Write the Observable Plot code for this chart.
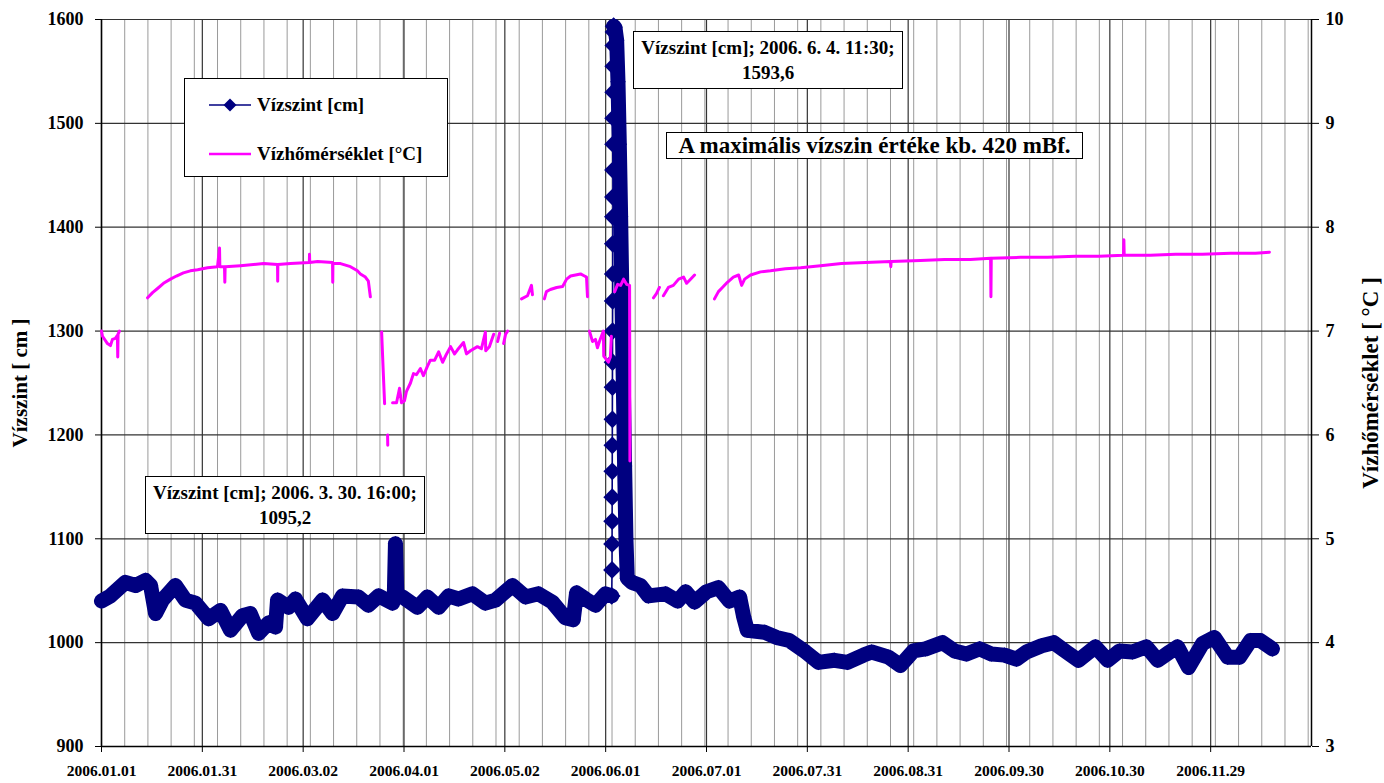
<!DOCTYPE html>
<html><head><meta charset="utf-8">
<script src="https://cdn.jsdelivr.net/npm/d3@7"></script>
<script src="https://cdn.jsdelivr.net/npm/@observablehq/plot@0.6"></script>
<style>
body{margin:0;background:#fff;}
#wrap{position:relative;width:1384px;height:783px;font-family:"Liberation Serif","Times New Roman",serif;font-weight:bold;color:#000;}
.box{position:absolute;background:#fff;border:1px solid #000;box-sizing:border-box;text-align:center;white-space:nowrap;}
</style></head><body><div id="wrap"></div>
<script>
// x tick labels (one every 365/12 days from 2006-01-01)
const xTickLabels = ["2006.01.01","2006.01.31","2006.03.02","2006.04.01","2006.05.02","2006.06.01","2006.07.01","2006.07.31","2006.08.31","2006.09.30","2006.10.30","2006.11.29"];
const levelTicks = [900,1000,1100,1200,1300,1400,1500,1600];
const tempTicks = [3,4,5,6,7,8,9,10];

// Water level [cm] — day of year (0 = 2006-01-01) and value
const levelDays = [0,2.7,7.2,10.3,13.3,14.8,16.3,18.4,22.3,25.3,28.4,32.3,35.9,38.9,42.5,44.9,47.4,50.4,52.5,53.1,56.4,58.5,62.1,66.7,69.7,72.7,77.5,80.5,83.6,87.8,88.3,88.67,89.1,90.8,95.3,98.3,101.7,104.7,107.7,111.9,115.8,118.9,124,127.9,131.8,136,139.9,142.3,143.3,146,149,152,153.9,
  154.00,154.02,154.04,154.06,154.08,154.10,154.12,154.14,154.16,154.18,154.20,154.22,154.24,154.26,154.28,154.30,154.32,154.34,154.36,154.38,154.40,154.44,154.48,
  154.9,155.4,155.8,156.2,156.6,157.0,157.4,157.8,158.2,158.6,160,162.6,
  165,170.1,173.8,176.2,178.9,182.5,186.1,189.4,192.5,193.7,194.8,200,203.6,207.5,212.4,216.3,221.1,225,229.9,232.3,237.4,241,244.9,248.6,253.7,257.3,260.9,264.9,268.5,272.4,276,279,283.6,287.2,291.1,294.7,299.8,303.5,307.1,311,315.2,318.6,322.2,324.6,327.9,332.1,335.7,339.7,343.3,346.6,349.6,353.2];
const levelVals = [1040,1045,1058,1055,1060,1055,1028,1041,1055,1041,1038,1023,1031,1012,1026,1028,1009,1019,1015,1041,1034,1042,1023,1041,1028,1045,1044,1036,1045,1038,1042,1095.2,1044,1044,1034,1044,1034,1045,1042,1047,1038,1041,1055,1044,1047,1039,1024,1022,1048,1042,1036,1047,1045,
  1070,1095,1117,1140,1165,1190,1215,1246,1270,1300,1329,1355,1384,1410,1429,1455,1480,1505,1530,1555,1575,1588,1593.6,
  1592,1580,1540,1480,1410,1330,1250,1170,1100,1062,1058,1055,
  1045,1047,1040,1049,1039,1049,1053,1040,1044,1025,1012,1010,1005,1002,991,981,983,981,988,991,986,978,992,994,1000,992,989,994,989,988,984,991,997,1000,991,983,996,983,992,991,996,983,991,996,976,999,1005,986,986,1002,1002,994];
// flood rise (start and end of the quickly rising limb, drawn with visible markers)
const riseStart = 153.9, riseEnd = 154.48;

// Water temperature [°C] — null marks a gap in the record
const tempDays = [0,0.3,1.8,2.7,3.3,4.2,4.8,4.9,5.0,5.4,5.5,
  13.9,15.4,16.9,18.7,20.8,22.6,24.7,26.8,29,32,35,35.6,35.7,37.1,37.2,37.3,41.9,48.9,53.1,53.15,53.2,57,62.7,62.75,62.8,65.2,69.7,69.75,69.8,72.1,75.1,77.2,78.1,79.6,80.5,81.1,81.2,
  84.5,85.0,85.4,85.5,
  86.3,86.35,86.4,
  87.8,89,89.9,90.5,91.4,92,93.2,94.1,95,96.2,97.1,98.3,99.2,100.5,101.7,102.9,104.1,105.3,106.5,107.4,109.2,110.1,111.3,113.4,114.6,115.8,115.9,117,118.3,118.4,
  119.5,120.1,120.2,
  121.3,121.9,122.5,122.6,
  126.7,128.5,129.7,130,130.1,
  133.6,134.2,135.4,137.3,139.1,140.3,141.5,143,144.5,145.7,146.3,146.6,146.7,
  147.2,148.1,149,149.6,150.2,150.8,151.4,151.5,152.9,153.5,153.8,153.9,
  154.8,155.7,156.6,157.5,158.4,159.3,159.4,159.5,
  166.5,167.4,168.3,168.4,
  169.5,171,172.5,174.1,175.6,176.5,177.4,178.9,179,
  184.9,186.1,187.3,188.8,190.6,192.2,193.1,194,195.8,198.8,201.8,206.3,210.9,216.9,223.2,230.5,238,238.1,238.2,247,254.3,262.1,268.2,268.3,268.4,277.2,285.4,293.8,301,308.3,308.4,308.5,316.4,324,332.1,340.6,348.1,352.3];
const tempVals = [7.00,6.95,6.88,6.86,6.92,6.93,6.96,6.75,6.97,7.00,null,
  7.32,7.37,7.41,7.46,7.50,7.53,7.56,7.58,7.59,7.61,7.62,7.80,7.62,7.62,7.47,7.62,7.63,7.65,7.64,7.48,7.64,7.65,7.66,7.74,7.66,7.67,7.66,7.47,7.65,7.65,7.62,7.58,7.55,7.52,7.48,7.33,null,
  6.99,6.60,6.30,null,
  6.00,5.90,null,
  6.31,6.31,6.45,6.31,6.33,6.42,6.50,6.59,6.58,6.64,6.57,6.66,6.72,6.72,6.80,6.70,6.78,6.85,6.78,6.82,6.89,6.78,6.81,6.85,6.83,6.99,6.81,6.85,6.97,null,
  6.90,6.98,null,
  6.88,6.97,7.00,null,
  7.31,7.34,7.44,7.35,null,
  7.31,7.38,7.40,7.42,7.43,7.50,7.53,7.54,7.55,7.53,7.52,7.33,null,
  7.00,6.90,6.92,6.84,6.90,6.95,7.00,6.76,6.70,6.75,6.95,null,
  7.38,7.45,7.44,7.50,7.45,7.44,5.75,null,
  7.32,7.36,7.42,null,
  7.34,7.42,7.44,7.50,7.52,7.46,7.49,7.54,null,
  7.31,7.38,7.42,7.47,7.52,7.54,7.44,7.50,7.54,7.57,7.58,7.60,7.61,7.63,7.65,7.66,7.67,7.62,7.67,7.68,7.69,7.69,7.70,7.33,7.70,7.71,7.71,7.72,7.72,7.73,7.88,7.73,7.73,7.74,7.74,7.75,7.75,7.76];

const NAVY = "#000080", MAGENTA = "#FF00FF";
const majorDays = xTickLabels.map((_, i) => i * 365 / 12);
const labelOf = new Map(majorDays.map((d, i) => [d, xTickLabels[i]]));
const minorDays = d3.range(0, 366, 7);
const t2v = t => 900 + (t - 3) * 100;   // temperature -> left-axis units
const v2t = v => (v - 900) / 100 + 3;

const level = levelDays.map((d, i) => ({day: d, v: levelVals[i],
  part: d <= riseStart ? "a" : d < riseEnd ? "r" : "b"}));
const levelThick = level.filter(d => d.part !== "r");
const levelRise = level.filter(d => d.day >= riseStart && d.day <= riseEnd);
const temp = tempDays.map((d, i) => ({day: d, v: tempVals[i] == null ? NaN : t2v(tempVals[i])}));

const chart = Plot.plot({
  width: 1384, height: 783,
  marginLeft: 101, marginRight: 73, marginTop: 19, marginBottom: 37,
  x: {domain: [0, 365]},
  y: {domain: [900, 1600]},
  style: {fontFamily: "'Liberation Serif','Times New Roman',serif", background: "white", color: "black"},
  marks: [
    Plot.ruleX(minorDays, {stroke: "#9a9a9a", strokeWidth: 1}),
    Plot.ruleX(majorDays, {stroke: "#333", strokeWidth: 1.2}),
    Plot.ruleY(levelTicks, {stroke: "#333", strokeWidth: 1.2}),
    Plot.ruleX([0, 365], {stroke: "#000", strokeWidth: 1.5}),
    Plot.ruleY([900], {stroke: "#000", strokeWidth: 1.5}),
    Plot.axisY(levelTicks, {anchor: "left", tickSize: 6, tickPadding: 12, fontSize: 18, fontWeight: "bold", label: null, tickFormat: d3.format("d")}),
    Plot.axisY(levelTicks, {anchor: "right", tickSize: 7, tickPadding: 7, fontSize: 18, fontWeight: "bold", label: null, tickFormat: v => String(v2t(v))}),
    Plot.axisX(majorDays, {anchor: "bottom", tickSize: 6, tickPadding: 12, fontSize: 15.5, fontWeight: "bold", label: null, tickFormat: d => labelOf.get(d)}),
    Plot.text(["Vízszint [ cm ]"], {frameAnchor: "left", textAnchor: "middle", dx: -81, rotate: -90, fontSize: 21, fontWeight: "bold"}),
    Plot.text(["Vízhőmérséklet [ °C ]"], {frameAnchor: "right", textAnchor: "middle", dx: 59, rotate: -90, fontSize: 23, fontWeight: "bold"}),
    Plot.line(levelThick, {x: "day", y: "v", z: d => d.part, stroke: NAVY, strokeWidth: 15, strokeLinejoin: "round", strokeLinecap: "round"}),
    Plot.dot(levelThick, {x: "day", y: "v", symbol: "diamond2", fill: NAVY, r: 7}),
    Plot.line(levelRise, {x: "day", y: "v", stroke: NAVY, strokeWidth: 1.5}),
    Plot.dot(levelRise, {x: "day", y: "v", symbol: "diamond2", fill: NAVY, r: 8}),
    Plot.line(temp, {x: "day", y: "v", stroke: MAGENTA, strokeWidth: 3})
  ]
});

const wrap = document.getElementById("wrap");
wrap.appendChild(chart);

function box(html, css) {
  const d = document.createElement("div");
  d.className = "box";
  d.style.cssText = css;
  d.innerHTML = html;
  wrap.appendChild(d);
}
// legend
box(`<svg style="position:absolute;left:24px;top:0" width="44" height="99">
  <line x1="0" x2="42" y1="26" y2="26" stroke="${NAVY}" stroke-width="1.5"/>
  <polygon points="21,19.5 27.5,26 21,32.5 14.5,26" fill="${NAVY}"/>
  <line x1="0" x2="42" y1="75" y2="75" stroke="${MAGENTA}" stroke-width="2.5"/></svg>
  <div style="position:absolute;left:72px;top:13px;font-size:19px;line-height:26px">Vízszint [cm]</div>
  <div style="position:absolute;left:72px;top:62px;font-size:19px;line-height:26px">Vízhőmérséklet [°C]</div>`,
  "left:184px;top:78px;width:264px;height:99px;text-align:left;");
// annotations
box(`Vízszint [cm]; 2006. 6. 4. 11:30;<br>1593,6`, "left:633px;top:31px;width:270px;height:58px;font-size:19px;line-height:25px;padding-top:3px;");
box(`A maximális vízszin értéke kb. 420 mBf.`, "left:666px;top:132px;width:417px;height:27px;font-size:23px;line-height:25px;");
box(`Vízszint [cm]; 2006. 3. 30. 16:00;<br>1095,2`, "left:145px;top:476px;width:280px;height:58px;font-size:19px;line-height:25px;padding-top:3px;");
</script></body></html>
